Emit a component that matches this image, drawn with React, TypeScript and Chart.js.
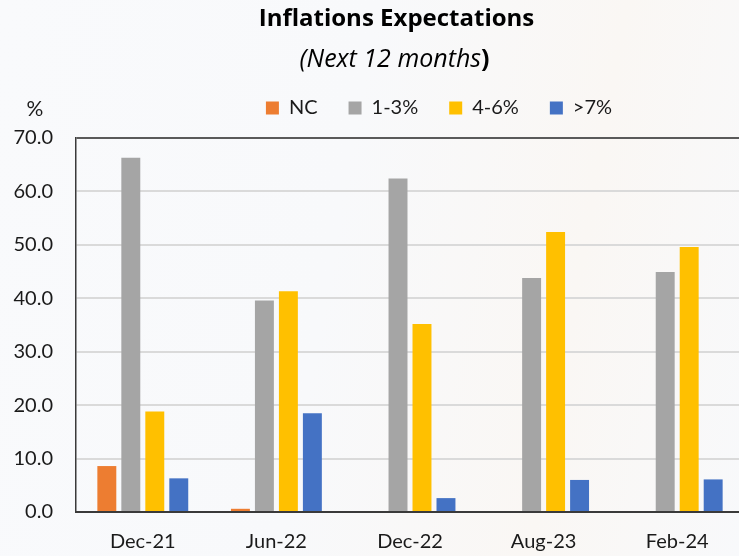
import React, { useEffect, useRef } from "react";
import { Chart, registerables } from "chart.js";

Chart.register(...registerables);

const categories = ["Dec-21", "Jun-22", "Dec-22", "Aug-23", "Feb-24"];
const seriesNames = ["NC", "1-3%", "4-6%", ">7%"];
const ncValues = [8.6, 0.6, 0, 0, 0];
const low13Values = [66.3, 39.6, 62.4, 43.8, 44.9];
const mid46Values = [18.8, 41.3, 35.2, 52.4, 49.6];
const high7Values = [6.3, 18.5, 2.6, 6.0, 6.1];
const seriesColors = ["#ED7D31", "#A5A5A5", "#FFC000", "#4472C4"];
const yTicks = [0, 10, 20, 30, 40, 50, 60, 70];

const titleText = "Inflations Expectations";
const subtitleText = "(Next 12 months";
const subtitleClose = ")";
const unitText = "%";

const FONT = "Lato";
const TITLE_FONT = "'Open Sans'";

const titlesPlugin = {
  id: "titlesPlugin",
  afterDraw(chart: any) {
    const ctx = chart.ctx;
    ctx.save();
    ctx.fillStyle = "#000000";
    ctx.textBaseline = "alphabetic";
    ctx.textAlign = "center";
    ctx.font = `bold 24px ${TITLE_FONT}`;
    ctx.fillText(titleText, 396.5, 26);

    ctx.textAlign = "left";
    ctx.font = `italic 25px ${TITLE_FONT}`;
    const w1 = ctx.measureText(subtitleText).width;
    ctx.font = `bold 25px ${TITLE_FONT}`;
    const w2 = ctx.measureText(subtitleClose).width;
    const sx = 394.5 - (w1 + w2) / 2;
    ctx.font = `italic 25px ${TITLE_FONT}`;
    ctx.fillText(subtitleText, sx, 66.5);
    ctx.font = `bold 25px ${TITLE_FONT}`;
    ctx.fillText(subtitleClose, sx + w1, 66.5);

    ctx.textAlign = "center";
    ctx.font = `21px ${FONT}`;
    ctx.fillStyle = "#1a1a1a";
    ctx.fillText(unitText, 35, 116);
    ctx.restore();
  },
};

const legendShift = {
  id: "legendShift",
  afterLayout(chart: any) {
    const lg = chart.legend;
    if (!lg) return;
    const dx = 439 - (lg.left + lg.right) / 2;
    lg.left += dx;
    lg.right += dx;
    const dy = 67 - lg.top;
    lg.top += dy;
    lg.bottom += dy;
  },
};

export default function App() {
  const canvasRef = useRef<HTMLCanvasElement | null>(null);

  useEffect(() => {
    if (!canvasRef.current) return;
    const values = [ncValues, low13Values, mid46Values, high7Values];
    const chart = new Chart(canvasRef.current, {
      type: "bar",
      data: {
        labels: categories,
        datasets: seriesNames.map((name, i) => ({
          label: name,
          data: values[i],
          backgroundColor: seriesColors[i],
          borderWidth: 0,
          barPercentage: 0.79,
          categoryPercentage: 0.718,
        })),
      },
      options: {
        responsive: false,
        animation: false,
        devicePixelRatio: 1,
        layout: { padding: { top: 77, left: 0, right: 0, bottom: 0 } },
        plugins: {
          title: { display: false },
          tooltip: { enabled: false },
          legend: {
            display: true,
            position: "top",
            align: "center",
            labels: {
              boxWidth: 13,
              boxHeight: 13,
              padding: 31,
              color: "#1a1a1a",
              font: { family: FONT, size: 20 },
            },
          },
        },
        scales: {
          x: {
            grid: { display: false, drawTicks: false },
            border: { display: true, color: "#3a3a3a", width: 2 },
            ticks: {
              color: "#1a1a1a",
              font: { family: FONT, size: 20 },
              padding: 18,
              maxRotation: 0,
            },
            afterFit: (s: any) => {
              s.height = 44;
            },
          },
          y: {
            min: 0,
            max: 70,
            afterBuildTicks: (s: any) => {
              s.ticks = yTicks.map((v) => ({ value: v }));
            },
            grid: {
              drawTicks: false,
              color: (c: any) =>
                c.tick && c.tick.value === 70
                  ? "#5a5a5a"
                  : c.tick && c.tick.value === 0
                  ? "rgba(0,0,0,0)"
                  : "#dadada",
              lineWidth: 2,
            },
            border: { display: true, color: "#3a3a3a", width: 1.5 },
            ticks: {
              color: "#1a1a1a",
              font: { family: FONT, size: 20 },
              padding: 23,
              callback: (v: any) => Number(v).toFixed(1),
            },
            afterFit: (s: any) => {
              s.width = 76;
            },
          },
        },
      },
      plugins: [titlesPlugin, legendShift],
    });
    return () => chart.destroy();
  }, []);

  return (
    <div
      style={{
        position: "fixed",
        left: 0,
        top: 0,
        width: 739,
        height: 556,
        overflow: "hidden",
        background:
          "linear-gradient(100deg, #f9fafc 0%, #f8f9fb 45%, #faf7f4 75%, #f8f9fb 100%)",
      }}
    >
      <canvas
        ref={canvasRef}
        width={744}
        height={556}
        style={{ display: "block", width: 744, height: 556 }}
      />
    </div>
  );
}
